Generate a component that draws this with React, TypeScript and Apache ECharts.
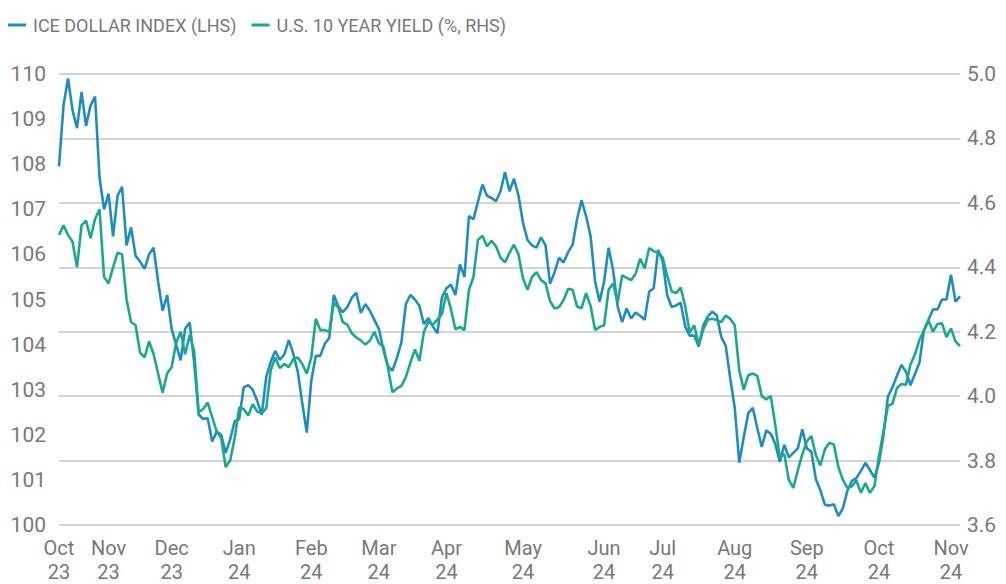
import React, { useEffect, useRef } from "react";
import * as echarts from "echarts";

// ICE Dollar Index (left axis), Oct 2023 – Nov 2024
const dollarIndex: number[] = [
  107.95, 109.3, 109.9, 109.2, 108.8, 109.6, 108.85, 109.3, 109.5, 107.7,
  107.0, 107.35, 106.4, 107.3, 107.5, 106.2, 106.6, 105.97, 105.84, 105.68,
  106.0, 106.15, 105.4, 104.75, 105.1, 104.35, 104.0, 103.65, 104.35, 104.49,
  103.6, 102.45, 102.35, 102.37, 101.85, 102.07, 102.0, 101.6, 101.9, 102.3,
  102.35, 103.05, 103.1, 103.0, 102.75, 102.44, 103.28, 103.62, 103.86, 103.66,
  103.78, 104.1, 103.8, 103.4, 102.7, 102.05, 103.2, 103.75, 103.75, 104.02,
  104.15, 105.1, 104.85, 104.72, 104.83, 105.04, 105.15, 104.7, 104.9, 104.75,
  104.55, 104.35, 103.88, 103.53, 103.42, 103.7, 104.05, 104.9, 105.1, 105.0,
  104.86, 104.45, 104.59, 104.4, 104.25, 105.05, 105.25, 105.33, 105.1, 105.78,
  105.5, 106.85, 106.78, 107.17, 107.55, 107.3, 107.25, 107.18, 107.4, 107.82,
  107.4, 107.68, 107.3, 106.7, 106.32, 106.2, 106.15, 106.38, 106.2, 105.35,
  105.6, 105.93, 105.82, 106.05, 106.21, 106.78, 107.2, 106.85, 106.4, 105.4,
  104.95, 105.4, 106.15, 105.65, 104.85, 104.5, 104.8, 104.58, 104.71, 104.64,
  104.55, 105.17, 105.25, 106.1, 105.85, 105.1, 104.83, 104.87, 104.93, 104.4,
  104.2, 104.2, 103.96, 104.42, 104.62, 104.73, 104.65, 104.17, 103.97, 103.25,
  102.6, 101.38, 101.95, 102.48, 102.6, 102.15, 101.73, 102.1, 102.02, 101.8,
  101.4, 101.78, 101.5, 101.6, 101.7, 102.12, 101.7, 101.63, 101.02, 100.77,
  100.45, 100.43, 100.46, 100.2, 100.37, 100.76, 100.98, 101.04, 101.2, 101.38,
  101.22, 101.05, 101.37, 101.98, 102.85, 103.05, 103.31, 103.55, 103.4, 103.1,
  103.35, 103.6, 104.32, 104.55, 104.78, 104.78, 105.0, 105.0, 105.55, 104.95,
  105.07,
];

// U.S. 10-year Treasury yield, % (right axis)
const tenYearYield: number[] = [
  4.5, 4.53, 4.5, 4.48, 4.4, 4.53, 4.545, 4.49, 4.55, 4.58,
  4.37, 4.35, 4.4, 4.445, 4.44, 4.3, 4.23, 4.22, 4.135, 4.12,
  4.17, 4.13, 4.07, 4.011, 4.07, 4.09, 4.165, 4.2, 4.13, 4.19,
  4.14, 3.95, 3.96, 3.98, 3.935, 3.89, 3.87, 3.78, 3.8, 3.87,
  3.965, 3.96, 3.94, 3.975, 3.952, 3.947, 3.962, 4.08, 4.12, 4.087,
  4.1, 4.09, 4.115, 4.12, 4.1, 4.07, 4.12, 4.24, 4.205, 4.205,
  4.2, 4.29, 4.275, 4.23, 4.222, 4.195, 4.182, 4.173, 4.16, 4.172,
  4.2, 4.164, 4.155, 4.09, 4.012, 4.024, 4.032, 4.06, 4.104, 4.145,
  4.11, 4.2, 4.23, 4.222, 4.238, 4.255, 4.32, 4.27, 4.207, 4.215,
  4.205, 4.33, 4.37, 4.485, 4.498, 4.465, 4.482, 4.465, 4.43, 4.415,
  4.445, 4.47, 4.44, 4.365, 4.33, 4.37, 4.385, 4.36, 4.35, 4.295,
  4.272, 4.277, 4.298, 4.333, 4.33, 4.278, 4.273, 4.32, 4.28, 4.205,
  4.215, 4.22, 4.33, 4.35, 4.29, 4.375, 4.367, 4.36, 4.38, 4.427,
  4.396, 4.46, 4.45, 4.446, 4.43, 4.374, 4.325, 4.32, 4.337, 4.28,
  4.197, 4.22, 4.16, 4.206, 4.237, 4.24, 4.236, 4.23, 4.25, 4.24,
  4.22, 4.08, 4.02, 4.065, 4.07, 4.063, 4.0, 3.99, 4.0, 3.91,
  3.81, 3.82, 3.74, 3.715, 3.77, 3.82, 3.86, 3.876, 3.817, 3.785,
  3.835, 3.855, 3.85, 3.78, 3.74, 3.715, 3.72, 3.738, 3.7, 3.73,
  3.7, 3.72, 3.812, 3.89, 3.97, 3.976, 4.025, 4.038, 4.035, 4.098,
  4.13, 4.175, 4.203, 4.235, 4.2, 4.224, 4.226, 4.183, 4.21, 4.17,
  4.155,
];

// Month tick labels and the sample index where each appears
const monthLabels: string[] = [
  "Oct\n23", "Nov\n23", "Dec\n23", "Jan\n24", "Feb\n24", "Mar\n24", "Apr\n24",
  "May\n24", "Jun\n24", "Jul\n24", "Aug\n24", "Sep\n24", "Oct\n24", "Nov\n24",
];
const monthIndex: number[] = [0, 11, 25, 40, 56, 71, 86, 103, 121, 134, 150, 166, 182, 198];

const seriesNames: string[] = ["ICE DOLLAR INDEX (LHS)", "U.S. 10 YEAR YIELD (%, RHS)"];

const FONT = "Roboto, 'Noto Sans', sans-serif";
const GREY = "#787878";

export default function App() {
  const ref = useRef<HTMLDivElement>(null);

  useEffect(() => {
    if (!ref.current) return;
    const chart = echarts.init(ref.current, undefined, { renderer: "svg" });
    const categories = dollarIndex.map((_, i) => String(i));
    const labelMap = new Map<number, string>();
    monthIndex.forEach((idx, k) => labelMap.set(idx, monthLabels[k]));

    chart.setOption({
      animation: false,
      backgroundColor: "#ffffff",
      grid: { left: 59, right: 46, top: 74, bottom: 59, containLabel: false },
      legend: {
        left: 3,
        top: 11,
        icon: "rect",
        itemWidth: 18,
        itemHeight: 3,
        itemGap: 15,
        textStyle: { color: GREY, fontSize: 18, fontFamily: FONT, padding: [0, 0, 0, 2] },
        data: seriesNames,
      },
      xAxis: {
        type: "category",
        boundaryGap: false,
        data: categories,
        axisLine: { show: false },
        axisTick: { show: false },
        splitLine: { show: false },
        axisLabel: {
          interval: (index: number) => labelMap.has(index),
          formatter: (_v: string, index: number) => labelMap.get(index) ?? "",
          color: GREY,
          fontSize: 20,
          lineHeight: 24,
          margin: 11,
          fontFamily: FONT,
        },
      },
      yAxis: [
        {
          type: "value",
          position: "left",
          min: 100,
          max: 110,
          interval: 1,
          splitLine: { show: false },
          axisLine: { show: false },
          axisTick: { show: false },
          axisLabel: { color: GREY, fontSize: 21, margin: 13, fontFamily: FONT },
        },
        {
          type: "value",
          position: "right",
          min: 3.6,
          max: 5.0,
          interval: 0.2,
          splitLine: { show: true, lineStyle: { color: "#c6c6c6", width: 1.5 } },
          axisLine: { show: false },
          axisTick: { show: false },
          axisLabel: {
            color: GREY,
            fontSize: 21,
            margin: 7,
            fontFamily: FONT,
            formatter: (v: number) => v.toFixed(1),
          },
        },
      ],
      series: [
        {
          name: seriesNames[0],
          type: "line",
          yAxisIndex: 0,
          data: dollarIndex,
          showSymbol: false,
          symbol: "none",
          lineStyle: { width: 2.6, color: "#1f8dc3" },
          itemStyle: { color: "#1f8dc3" },
        },
        {
          name: seriesNames[1],
          type: "line",
          yAxisIndex: 1,
          data: tenYearYield,
          showSymbol: false,
          symbol: "none",
          lineStyle: { width: 2.6, color: "#1aa98d" },
          itemStyle: { color: "#1aa98d" },
        },
      ],
    });

    return () => chart.dispose();
  }, []);

  return (
    <div
      ref={ref}
      style={{ position: "fixed", left: 0, top: 0, width: 1006, height: 584 }}
    />
  );
}
